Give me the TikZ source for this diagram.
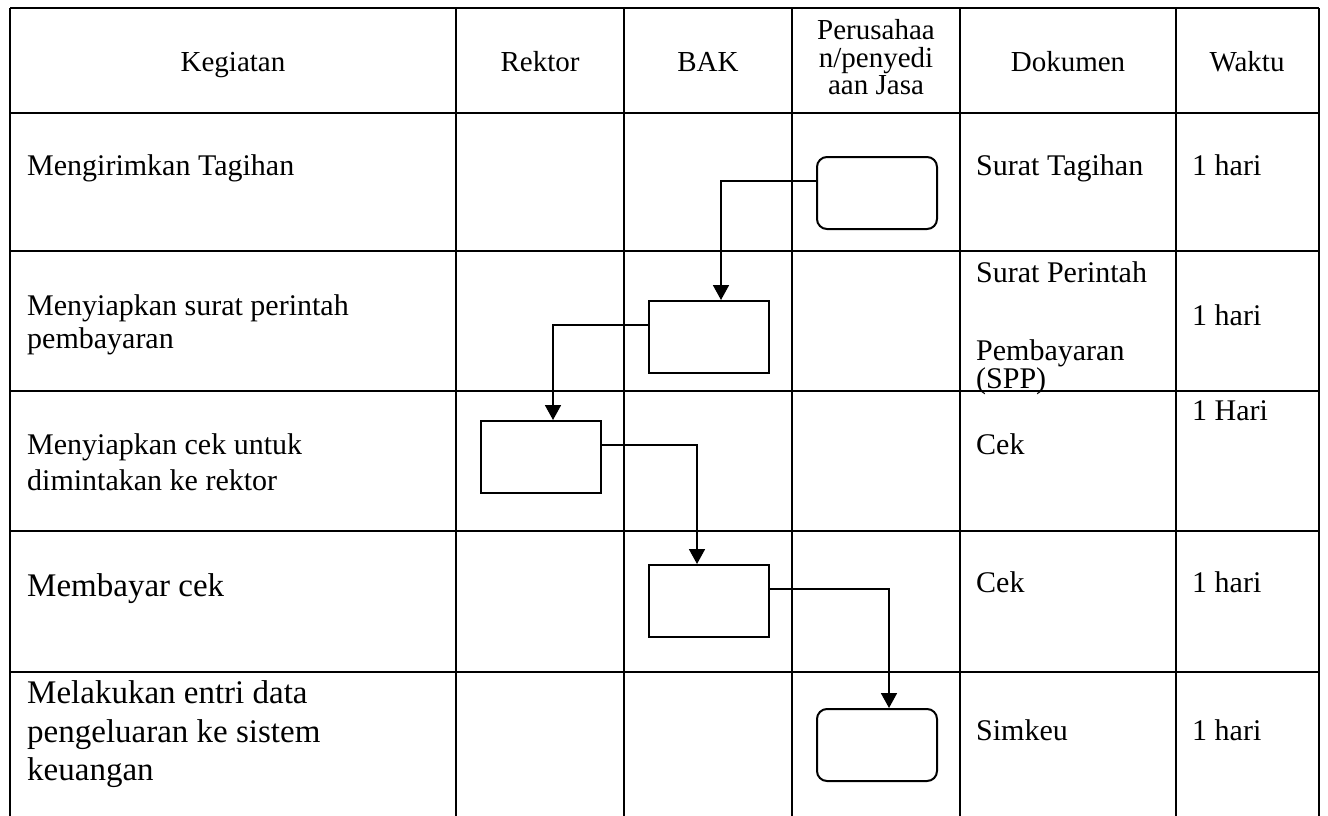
\documentclass[tikz,border=0pt]{standalone}
\usepackage{fontspec}
\setmainfont{Liberation Serif}
\usetikzlibrary{arrows.meta}
\tikzset{
  grid/.style={line width=1.2pt, black},
  procbox/.style={draw, line width=2pt, rectangle, minimum width=120pt, minimum height=72pt, inner sep=0pt},
  termbox/.style={procbox, rounded corners=10pt},
  conn/.style={line width=1.8pt, -{Triangle[width=16pt,length=15pt]}},
  hd/.style={anchor=base, inner sep=0pt, font=\fontsize{29}{34}\selectfont},
  tx/.style={anchor=base west, inner sep=0pt, font=\fontsize{30}{36}\selectfont},
  tl/.style={anchor=base west, inner sep=0pt, font=\fontsize{33}{38}\selectfont},
}
\begin{document}
\begin{tikzpicture}[x=1pt, y=-1pt]
\useasboundingbox (0,0) rectangle (1328,816);
% grid
\foreach \yy in {8,113,251,391,531,672} \draw[grid] (10,\yy) -- (1319,\yy);
\foreach \xx in {10,456,624,792,960,1176,1319} \draw[grid] (\xx,8) -- (\xx,816);
% header
\node[hd] (hKeg) at (233,72) {Kegiatan};
\node[hd] (hRek) at (540,72) {Rektor};
\node[hd] (hBAK) at (708,72) {BAK};
\node[hd] (hPer1) at (876,40) {Perusahaa};
\node[hd] (hPer2) at (876,67) {n/penyedi};
\node[hd] (hPer3) at (876,94) {aan Jasa};
\node[hd] (hDok) at (1068,72) {Dokumen};
\node[hd] (hWak) at (1247,72) {Waktu};
% activities
\node[tx] (k1) at (27,175) {Mengirimkan Tagihan};
\node[tx] (k2a) at (27,315) {Menyiapkan surat perintah};
\node[tx] (k2b) at (27,348) {pembayaran};
\node[tx] (k3a) at (27,454) {Menyiapkan cek untuk};
\node[tx] (k3b) at (27,490) {dimintakan ke rektor};
\node[tl] (k4) at (27,596) {Membayar cek};
\node[tl] (k5a) at (27,703) {Melakukan entri data};
\node[tl] (k5b) at (27,742) {pengeluaran ke sistem};
\node[tl] (k5c) at (27,780) {keuangan};
% documents
\node[tx] (d1) at (976,175) {Surat Tagihan};
\node[tx] (d2a) at (976,282) {Surat Perintah};
\node[tx] (d2b) at (976,360) {Pembayaran};
\node[tx] (d2c) at (976,388) {(SPP)};
\node[tx] (d3) at (976,454) {Cek};
\node[tx] (d4) at (976,592) {Cek};
\node[tx] (d5) at (976,740) {Simkeu};
% time
\node[tx] (w1) at (1192,175) {1 hari};
\node[tx] (w2) at (1192,325) {1 hari};
\node[tx] (w3) at (1192,420) {1 Hari};
\node[tx] (w4) at (1192,592) {1 hari};
\node[tx] (w5) at (1192,740) {1 hari};
% flow boxes
\node[termbox] (b1) at (877,193) {};
\node[procbox] (b2) at (709,337) {};
\node[procbox] (b3) at (541,457) {};
\node[procbox] (b4) at (709,601) {};
\node[termbox] (b5) at (877,745) {};
% connectors
\draw[conn] ([yshift=12pt]b1.west) -| ([xshift=12pt]b2.north);
\draw[conn] ([yshift=12pt]b2.west) -| ([xshift=12pt]b3.north);
\draw[conn] ([yshift=12pt]b3.east) -| ([xshift=-12pt]b4.north);
\draw[conn] ([yshift=12pt]b4.east) -| ([xshift=12pt]b5.north);
\end{tikzpicture}
\end{document}
